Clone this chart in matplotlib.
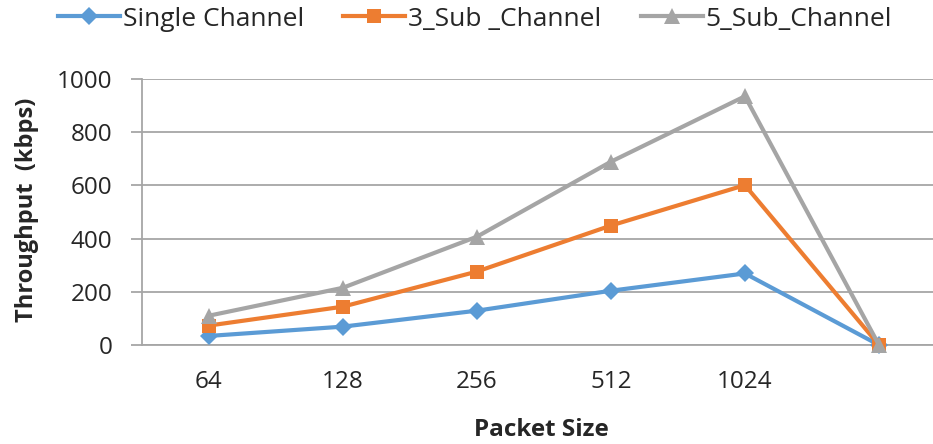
import matplotlib
matplotlib.use("Agg")
import matplotlib.pyplot as plt

categories = ["64", "128", "256", "512", "1024", ""]
single_channel = [34, 69, 129, 204, 269, 0]
sub3_channel = [73, 144, 276, 449, 601, 0]
sub5_channel = [110, 215, 407, 689, 935, 0]
series_names = ["Single Channel", "3_Sub _Channel", "5_Sub_Channel"]
y_ticks = [0, 200, 400, 600, 800, 1000]

plt.rcParams['font.family'] = ['Open Sans', 'DejaVu Sans']

W, H = 933, 444
fig = plt.figure(figsize=(W / 100, H / 100), dpi=100)
left, right, top, bottom = 141.7, 946, 79, 345
ax = fig.add_axes([left / W, 1 - bottom / H, (right - left) / W, (bottom - top) / H])

x = list(range(len(categories)))
styles = [
    (single_channel, "#5B9BD5", "D", 9.5),
    (sub3_channel, "#ED7D31", "s", 10),
    (sub5_channel, "#A5A5A5", "^", 11.5),
]
handles = []
for (vals, color, marker, ms), name in zip(styles, series_names):
    h, = ax.plot(x, vals, color=color, lw=3, marker=marker, markersize=ms,
                 markeredgewidth=0, label=name, zorder=3, clip_on=False)
    handles.append(h)

ax.set_xlim(-0.5, len(categories) - 0.5)
ax.set_ylim(0, 1000)
ax.set_yticks(y_ticks)
ax.set_xticks(x)
ax.set_xticklabels(categories)
ax.grid(axis='y', color='#A6A6A6', lw=1.3)
ax.set_axisbelow(True)
for s in ['top', 'right']:
    ax.spines[s].set_visible(False)
for s in ['left', 'bottom']:
    ax.spines[s].set_color('#A6A6A6')
    ax.spines[s].set_linewidth(1.3)
ax.tick_params(axis='y', direction='out', length=8, width=1.3, color='#A6A6A6',
               labelsize=17.5, labelcolor='#262626', pad=13)
ax.tick_params(axis='x', length=0, labelsize=17.5, labelcolor='#262626', pad=18)

fig.text(541 / W, 1 - 430 / H, "Packet Size", ha='center', va='center',
         fontsize=17.5, fontweight='bold', color='#262626')
fig.text(27 / W, 1 - 210 / H, "Throughput  (kbps)", ha='center', va='center',
         rotation=90, fontsize=17, fontweight='bold', color='#262626')

fig.legend(handles=handles, labels=series_names, loc='center',
           bbox_to_anchor=(475 / W, 1 - 19 / H), ncol=3, frameon=False,
           fontsize=19, handlelength=2.35, handletextpad=0.1, columnspacing=1.5,
           labelcolor='#262626')

fig.savefig("out.png", dpi=100)
